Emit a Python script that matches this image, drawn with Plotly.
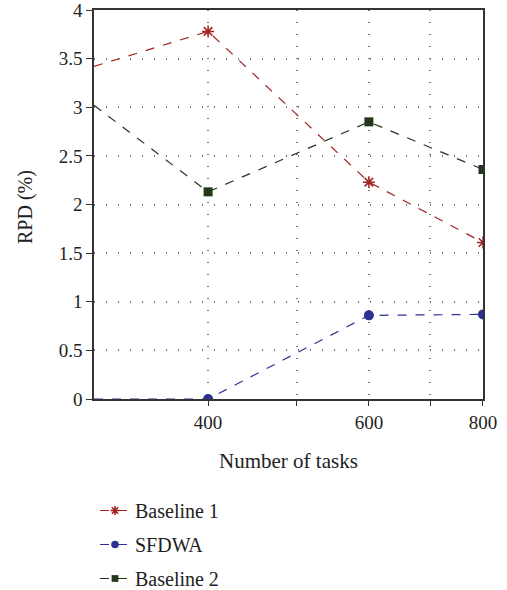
import plotly.graph_objects as go

tasks = [300, 400, 600, 800]
baseline1 = [3.42, 3.78, 2.23, 1.61]
sfdwa = [0.0, 0.0, 0.86, 0.87]
baseline2 = [3.02, 2.13, 2.85, 2.36]

x_tick_vals = [400, 500, 600, 700, 800]
x_tick_text = ["400", "", "600", "", "800"]
y_tick_vals = [0, 0.5, 1, 1.5, 2, 2.5, 3, 3.5, 4]
y_tick_text = ["0", "0.5", "1", "1.5", "2", "2.5", "3", "3.5", "4"]
x_title = "Number of tasks"
y_title = "RPD (%)"

FONT = "Liberation Serif"
FS = 19
RED = "#a32323"
BLUE = "#2e3192"
GREEN = "#22381c"

fig = go.Figure()
fig.add_trace(go.Scatter(
    x=tasks, y=baseline1, name="Baseline 1", mode="lines+markers",
    line=dict(color=RED, width=1.2, dash="dash"),
    marker=dict(symbol="asterisk-open", size=[0, 10, 10, 10], opacity=1,
                line=dict(color=RED, width=1.5), color=RED),
    legendgroup="a"))
fig.add_trace(go.Scatter(
    x=tasks, y=sfdwa, name="SFDWA", mode="lines+markers",
    line=dict(color=BLUE, width=1.2, dash="dash"),
    marker=dict(symbol="circle", size=[0, 10, 10, 10], color=BLUE, opacity=1,
                line=dict(width=0)),
    legendgroup="b"))
fig.add_trace(go.Scatter(
    x=tasks, y=baseline2, name="Baseline 2", mode="lines+markers",
    line=dict(color=GREEN, width=1.2, dash="dash"),
    marker=dict(symbol="square", size=[0, 9, 9, 9], color=GREEN, opacity=1,
                line=dict(width=0)),
    legendgroup="c"))

W, H = 507, 590
L, R, T, B = 94, 24, 10, 191
PW = W - L - R
PH = H - T - B
fig.update_layout(
    width=W, height=H,
    margin=dict(l=L, r=R, t=T, b=B, autoexpand=False),
    paper_bgcolor="white", plot_bgcolor="white",
    font=dict(family=FONT, size=FS, color="#222"),
    showlegend=True,
    legend=dict(x=(95 - L) / PW, y=(H - B - 491) / PH,
                xanchor="left", yanchor="top",
                font=dict(family=FONT, size=20, color="#222"),
                tracegroupgap=5, itemwidth=30, bgcolor="rgba(0,0,0,0)"),
    annotations=[
        dict(text=x_title, xref="paper", yref="paper", x=0.5,
             y=(H - B - 461) / PH, xanchor="center", yanchor="middle",
             showarrow=False, font=dict(family=FONT, size=21, color="#222")),
        dict(text=y_title, xref="paper", yref="paper", x=(25 - L) / PW,
             y=(H - B - 207) / PH, xanchor="center", yanchor="middle",
             textangle=-90, showarrow=False,
             font=dict(family=FONT, size=20, color="#222")),
    ],
)
fig.update_xaxes(
    type="log", range=[2.4771, 2.9031],
    tickvals=x_tick_vals, ticktext=x_tick_text,
    showline=True, linecolor="#333", linewidth=1.5, mirror=True,
    ticks="outside", ticklen=5, tickcolor="#333",
    showgrid=True, gridcolor="#777", griddash="1px,11px", gridwidth=1.5,
    zeroline=False, ticklabeloverflow="allow",
    tickfont=dict(family=FONT, size=FS),
)
fig.update_yaxes(
    range=[0, 4],
    tickvals=y_tick_vals, ticktext=y_tick_text,
    showline=True, linecolor="#333", linewidth=1.5, mirror=True,
    ticks="outside", ticklen=6, tickcolor="#333",
    showgrid=True, gridcolor="#777", griddash="1px,11px", gridwidth=1.5,
    zeroline=False, ticklabeloverflow="allow",
    tickfont=dict(family=FONT, size=FS),
)

fig.write_html("out.html", config={"displayModeBar": False},
               post_script="document.body.style.margin='0';document.body.style.overflow='hidden';")
